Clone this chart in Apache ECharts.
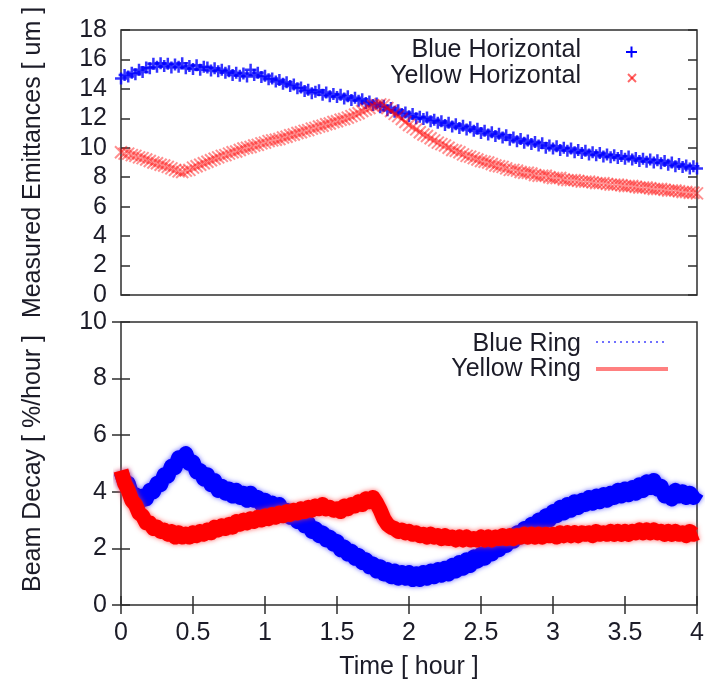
<!DOCTYPE html>
<html>
<head>
<meta charset="utf-8">
<script src="https://cdn.jsdelivr.net/npm/echarts@6/dist/echarts.min.js"></script>
<style>
  html, body { margin: 0; padding: 0; background: #fff; }
  #chart { width: 712px; height: 684px; }
</style>
</head>
<body>
<div id="chart"></div>
<script>
// Sample times (hours), one reading every 1.5 minutes
const hours = [
  0, 0.025, 0.05, 0.075, 0.1, 0.125, 0.15, 0.175, 0.2, 0.225,
  0.25, 0.275, 0.3, 0.325, 0.35, 0.375, 0.4, 0.425, 0.45, 0.475,
  0.5, 0.525, 0.55, 0.575, 0.6, 0.625, 0.65, 0.675, 0.7, 0.725,
  0.75, 0.775, 0.8, 0.825, 0.85, 0.875, 0.9, 0.925, 0.95, 0.975,
  1, 1.025, 1.05, 1.075, 1.1, 1.125, 1.15, 1.175, 1.2, 1.225,
  1.25, 1.275, 1.3, 1.325, 1.35, 1.375, 1.4, 1.425, 1.45, 1.475,
  1.5, 1.525, 1.55, 1.575, 1.6, 1.625, 1.65, 1.675, 1.7, 1.725,
  1.75, 1.775, 1.8, 1.825, 1.85, 1.875, 1.9, 1.925, 1.95, 1.975,
  2, 2.025, 2.05, 2.075, 2.1, 2.125, 2.15, 2.175, 2.2, 2.225,
  2.25, 2.275, 2.3, 2.325, 2.35, 2.375, 2.4, 2.425, 2.45, 2.475,
  2.5, 2.525, 2.55, 2.575, 2.6, 2.625, 2.65, 2.675, 2.7, 2.725,
  2.75, 2.775, 2.8, 2.825, 2.85, 2.875, 2.9, 2.925, 2.95, 2.975,
  3, 3.025, 3.05, 3.075, 3.1, 3.125, 3.15, 3.175, 3.2, 3.225,
  3.25, 3.275, 3.3, 3.325, 3.35, 3.375, 3.4, 3.425, 3.45, 3.475,
  3.5, 3.525, 3.55, 3.575, 3.6, 3.625, 3.65, 3.675, 3.7, 3.725,
  3.75, 3.775, 3.8, 3.825, 3.85, 3.875, 3.9, 3.925, 3.95, 3.975,
  4
];

// Measured horizontal emittances [um]
const blueHorizontal = [
  14.7, 14.95, 14.85, 15.1, 15.0, 15.3, 15.15, 15.45, 15.4, 15.7,
  15.5, 15.75, 15.55, 15.7, 15.45, 15.65, 15.5, 15.75, 15.4, 15.55,
  15.35, 15.6, 15.3, 15.5, 15.45, 15.25, 15.4, 15.2, 15.3, 15.1,
  15.2, 14.95, 15.1, 14.9, 15.05, 14.85, 15.3, 14.95, 15.1, 14.8,
  14.9, 14.65, 14.7, 14.5, 14.6, 14.35, 14.45, 14.2, 14.3, 14.05,
  14.1, 13.85, 13.95, 13.7, 13.8, 13.9, 13.6, 13.75, 13.5, 13.65,
  13.45, 13.6, 13.35, 13.5, 13.25, 13.4, 13.2, 13.3, 13.05, 13.15,
  12.9, 13.0, 12.75, 12.85, 12.55, 12.7, 12.45, 12.55, 12.3, 12.4,
  12.15, 12.3, 12.0, 12.1, 11.95, 12.05, 11.8, 11.9, 11.7, 11.8,
  11.55, 11.7, 11.45, 11.6, 11.35, 11.5, 11.25, 11.4, 11.15, 11.3,
  11.0, 11.15, 10.9, 11.05, 10.8, 10.95, 10.7, 10.85, 10.55, 10.7,
  10.45, 10.6, 10.35, 10.5, 10.25, 10.4, 10.15, 10.3, 10.0, 10.15,
  9.95, 10.1, 9.85, 10.0, 9.8, 9.95, 9.7, 9.85, 9.65, 9.8,
  9.55, 9.7, 9.5, 9.65, 9.4, 9.55, 9.35, 9.5, 9.3, 9.45,
  9.25, 9.4, 9.2, 9.3, 9.1, 9.25, 9.05, 9.2, 9.0, 9.15,
  8.95, 9.1, 8.85, 9.0, 8.75, 8.9, 8.7, 8.8, 8.6, 8.75,
  8.6
];
const yellowHorizontal = [
  9.7, 9.6, 9.6, 9.5, 9.45, 9.35, 9.3, 9.2, 9.1, 9.0,
  8.95, 8.85, 8.8, 8.7, 8.6, 8.5, 8.4, 8.35, 8.45, 8.5,
  8.65, 8.75, 8.85, 8.95, 9.05, 9.15, 9.25, 9.35, 9.45, 9.5,
  9.6, 9.7, 9.75, 9.85, 9.95, 10.0, 10.05, 10.15, 10.2, 10.3,
  10.35, 10.45, 10.5, 10.55, 10.6, 10.7, 10.75, 10.85, 10.9, 11.0,
  11.05, 11.15, 11.2, 11.3, 11.35, 11.45, 11.5, 11.6, 11.65, 11.75,
  11.8, 11.9, 11.95, 12.05, 12.15, 12.25, 12.35, 12.5, 12.6, 12.7,
  12.85, 12.9, 12.95, 12.9, 12.7, 12.5, 12.3, 12.15, 11.95, 11.75,
  11.55, 11.4, 11.25, 11.05, 10.9, 10.8, 10.65, 10.5, 10.35, 10.25,
  10.15, 10.0, 9.85, 9.8, 9.7, 9.55, 9.45, 9.4, 9.3, 9.2,
  9.1, 9.05, 9.0, 8.9, 8.8, 8.75, 8.7, 8.6, 8.5, 8.5,
  8.45, 8.35, 8.3, 8.3, 8.25, 8.15, 8.1, 8.1, 8.1, 8.0,
  7.95, 7.95, 7.95, 7.85, 7.8, 7.8, 7.8, 7.75, 7.7, 7.7,
  7.7, 7.65, 7.6, 7.6, 7.6, 7.55, 7.5, 7.5, 7.5, 7.45,
  7.4, 7.4, 7.4, 7.35, 7.3, 7.3, 7.3, 7.25, 7.2, 7.2,
  7.2, 7.15, 7.1, 7.1, 7.1, 7.05, 7.0, 7.0, 6.95, 6.95,
  6.9
];

// Beam decay rates [%/hour]
const blueRing = [
  4.7, 4.35, 4.3, 3.9, 3.9, 3.6, 3.85, 3.75, 4.05, 4.0,
  4.3, 4.25, 4.6, 4.55, 4.9, 4.85, 5.2, 5.1, 5.35, 5.0,
  5.05, 4.7, 4.75, 4.45, 4.6, 4.25, 4.4, 4.05, 4.2, 3.95,
  4.1, 3.85, 4.05, 3.8, 3.95, 3.7, 3.95, 3.7, 3.8, 3.55,
  3.7, 3.45, 3.6, 3.35, 3.55, 3.2, 3.35, 3.1, 3.2, 2.95,
  3.05, 2.8, 2.9, 2.6, 2.7, 2.45, 2.55, 2.3, 2.4, 2.15,
  2.25, 1.95, 2.05, 1.8, 1.9, 1.65, 1.75, 1.5, 1.6, 1.35,
  1.45, 1.2, 1.35, 1.1, 1.25, 1.0, 1.2, 0.95, 1.15, 0.95,
  1.15, 0.9, 1.1, 0.9, 1.15, 0.95, 1.2, 1.0, 1.25, 1.05,
  1.3, 1.1, 1.4, 1.2, 1.5, 1.3, 1.6, 1.4, 1.7, 1.55,
  1.8, 1.65, 1.95, 1.8, 2.1, 1.95, 2.25, 2.1, 2.4, 2.25,
  2.55, 2.4, 2.7, 2.55, 2.85, 2.7, 3.0, 2.85, 3.15, 3.0,
  3.3, 3.15, 3.45, 3.25, 3.55, 3.35, 3.65, 3.45, 3.7, 3.55,
  3.8, 3.6, 3.85, 3.65, 3.9, 3.7, 3.95, 3.8, 4.05, 3.85,
  4.1, 3.9, 4.15, 3.95, 4.25, 4.05, 4.35, 4.15, 4.4, 4.1,
  4.2, 3.85, 3.95, 3.75, 4.05, 3.85, 4.0, 3.8, 3.95, 3.8,
  4.0
];
const yellowRing = [
  4.75, 4.3, 4.05, 3.7, 3.55, 3.25, 3.15, 2.9, 2.9, 2.7,
  2.75, 2.6, 2.65, 2.5, 2.6, 2.4, 2.55, 2.4, 2.5, 2.4,
  2.55, 2.45, 2.6, 2.5, 2.65, 2.55, 2.75, 2.65, 2.8, 2.7,
  2.85, 2.75, 2.95, 2.85, 3.0, 2.9, 3.05, 2.95, 3.1, 3.0,
  3.15, 3.05, 3.2, 3.1, 3.25, 3.15, 3.3, 3.2, 3.35, 3.25,
  3.4, 3.3, 3.45, 3.35, 3.5, 3.4, 3.55, 3.4, 3.45, 3.35,
  3.4, 3.3, 3.5, 3.4, 3.55, 3.5, 3.65, 3.55, 3.75, 3.65,
  3.8, 3.6, 3.35, 3.05, 2.85, 2.75, 2.7, 2.6, 2.65, 2.55,
  2.6, 2.5, 2.55, 2.45, 2.5, 2.4, 2.5, 2.4, 2.45, 2.35,
  2.45, 2.35, 2.4, 2.3, 2.4, 2.3, 2.4, 2.3, 2.35, 2.3,
  2.4, 2.3, 2.4, 2.3, 2.4, 2.35, 2.45, 2.35, 2.45, 2.35,
  2.45, 2.4, 2.5, 2.4, 2.5, 2.4, 2.5, 2.4, 2.5, 2.45,
  2.5, 2.4, 2.55, 2.45, 2.55, 2.45, 2.55, 2.45, 2.55, 2.5,
  2.55, 2.45, 2.6, 2.5, 2.55, 2.5, 2.6, 2.5, 2.6, 2.5,
  2.6, 2.5, 2.6, 2.55, 2.65, 2.55, 2.65, 2.55, 2.65, 2.55,
  2.6, 2.5, 2.6, 2.5, 2.6, 2.5, 2.55, 2.45, 2.6, 2.5,
  2.55
];

const FONT = '"Liberation Sans", Arial, Helvetica, sans-serif';
const TEXT = '#1c1c28';
const FRAME = '#2e2e2e';

const pairs = (vals) => hours.map((t, i) => [t, vals[i]]);

const tickInside = { show: true, inside: true, length: 9, lineStyle: { color: FRAME, width: 1.5 } };
const label = { fontSize: 25, color: TEXT, fontFamily: FONT };
const nameStyle = { fontSize: 25, color: TEXT, fontFamily: FONT };
const hidden = { show: false };

const chart = echarts.init(document.getElementById('chart'), null, { renderer: 'canvas' });

chart.setOption({
  animation: false,
  backgroundColor: '#fff',
  grid: [
    { left: 121, top: 30, width: 576, height: 265, show: true, borderColor: FRAME, borderWidth: 1.5, backgroundColor: 'transparent' },
    { left: 121, top: 322, width: 576, height: 283, show: true, borderColor: FRAME, borderWidth: 1.5, backgroundColor: 'transparent' }
  ],
  xAxis: [
    { gridIndex: 0, type: 'value', min: 0, max: 4, interval: 0.5,
      axisLine: hidden, axisTick: hidden, axisLabel: hidden, splitLine: hidden },
    { gridIndex: 1, type: 'value', min: 0, max: 4, interval: 0.5, position: 'bottom',
      axisLine: hidden, axisTick: tickInside, splitLine: hidden,
      axisLabel: Object.assign({ margin: 16 }, label),
      name: 'Time [ hour ]', nameLocation: 'middle', nameGap: 50, nameTextStyle: nameStyle },
    { gridIndex: 1, type: 'value', min: 0, max: 4, interval: 0.5, position: 'top',
      axisLine: hidden, axisTick: tickInside, axisLabel: hidden, splitLine: hidden }
  ],
  yAxis: [
    { gridIndex: 0, type: 'value', min: 0, max: 18, interval: 2, position: 'left',
      axisLine: hidden, axisTick: tickInside, splitLine: hidden,
      axisLabel: Object.assign({ margin: 14 }, label),
      name: 'Measured Emittances [ um ]', nameLocation: 'middle', nameGap: 75, nameTextStyle: nameStyle },
    { gridIndex: 0, type: 'value', min: 0, max: 18, interval: 2, position: 'right',
      axisLine: hidden, axisTick: tickInside, axisLabel: hidden, splitLine: hidden },
    { gridIndex: 1, type: 'value', min: 0, max: 10, interval: 2, position: 'left',
      axisLine: hidden, axisTick: tickInside, splitLine: hidden,
      axisLabel: Object.assign({ margin: 14 }, label),
      name: 'Beam Decay [ %/hour ]', nameLocation: 'middle', nameGap: 75, nameTextStyle: nameStyle },
    { gridIndex: 1, type: 'value', min: 0, max: 10, interval: 2, position: 'right',
      axisLine: hidden, axisTick: tickInside, axisLabel: hidden, splitLine: hidden }
  ],
  series: [
    { name: 'Blue Horizontal', type: 'scatter', xAxisIndex: 0, yAxisIndex: 0, clip: false, silent: true,
      data: pairs(blueHorizontal),
      symbol: 'path://M5,0L5,10M0,5L10,5', symbolSize: 12,
      itemStyle: { color: 'rgba(0,0,0,0)', borderColor: '#0000ff', borderWidth: 2.5 } },
    { name: 'Yellow Horizontal', type: 'scatter', xAxisIndex: 0, yAxisIndex: 0, clip: false, silent: true,
      data: pairs(yellowHorizontal),
      symbol: 'path://M0,0L10,10M0,10L10,0', symbolSize: 12,
      itemStyle: { color: 'rgba(0,0,0,0)', borderColor: 'rgba(255,0,0,0.55)', borderWidth: 2 } },
    { name: 'Blue Ring', type: 'line', xAxisIndex: 1, yAxisIndex: 2, clip: false, silent: true,
      data: pairs(blueRing), showSymbol: false,
      lineStyle: { color: '#0000ff', width: 15, join: 'round', shadowBlur: 5, shadowColor: 'rgba(60,60,255,0.8)' } },
    { name: 'Yellow Ring', type: 'line', xAxisIndex: 1, yAxisIndex: 2, clip: false, silent: true,
      data: pairs(yellowRing), showSymbol: false,
      lineStyle: { color: '#ff0000', width: 15, join: 'round', shadowBlur: 5, shadowColor: 'rgba(255,60,60,0.8)' } }
  ],
  graphic: [
    // key for the emittance panel
    { type: 'text', x: 581, y: 50, style: { text: 'Blue Horizontal', textAlign: 'right', textVerticalAlign: 'middle', font: '25px ' + FONT, fill: TEXT } },
    { type: 'line', shape: { x1: 626, y1: 52, x2: 637, y2: 52 }, style: { stroke: '#0000ff', lineWidth: 2 } },
    { type: 'line', shape: { x1: 631.5, y1: 46.5, x2: 631.5, y2: 57.5 }, style: { stroke: '#0000ff', lineWidth: 2 } },
    { type: 'text', x: 581, y: 76, style: { text: 'Yellow Horizontal', textAlign: 'right', textVerticalAlign: 'middle', font: '25px ' + FONT, fill: TEXT } },
    { type: 'line', shape: { x1: 628, y1: 74, x2: 636, y2: 82 }, style: { stroke: 'rgba(255,0,0,0.6)', lineWidth: 2 } },
    { type: 'line', shape: { x1: 628, y1: 82, x2: 636, y2: 74 }, style: { stroke: 'rgba(255,0,0,0.6)', lineWidth: 2 } },
    // key for the decay panel
    { type: 'text', x: 581, y: 344, style: { text: 'Blue Ring', textAlign: 'right', textVerticalAlign: 'middle', font: '25px ' + FONT, fill: TEXT } },
    { type: 'line', shape: { x1: 596, y1: 342, x2: 665, y2: 342 }, style: { stroke: '#7070ff', lineWidth: 2, lineDash: [2, 4] } },
    { type: 'text', x: 581, y: 369, style: { text: 'Yellow Ring', textAlign: 'right', textVerticalAlign: 'middle', font: '25px ' + FONT, fill: TEXT } },
    { type: 'line', shape: { x1: 596, y1: 369, x2: 668, y2: 369 }, style: { stroke: '#ff8080', lineWidth: 4 } }
  ]
});
</script>
</body>
</html>
